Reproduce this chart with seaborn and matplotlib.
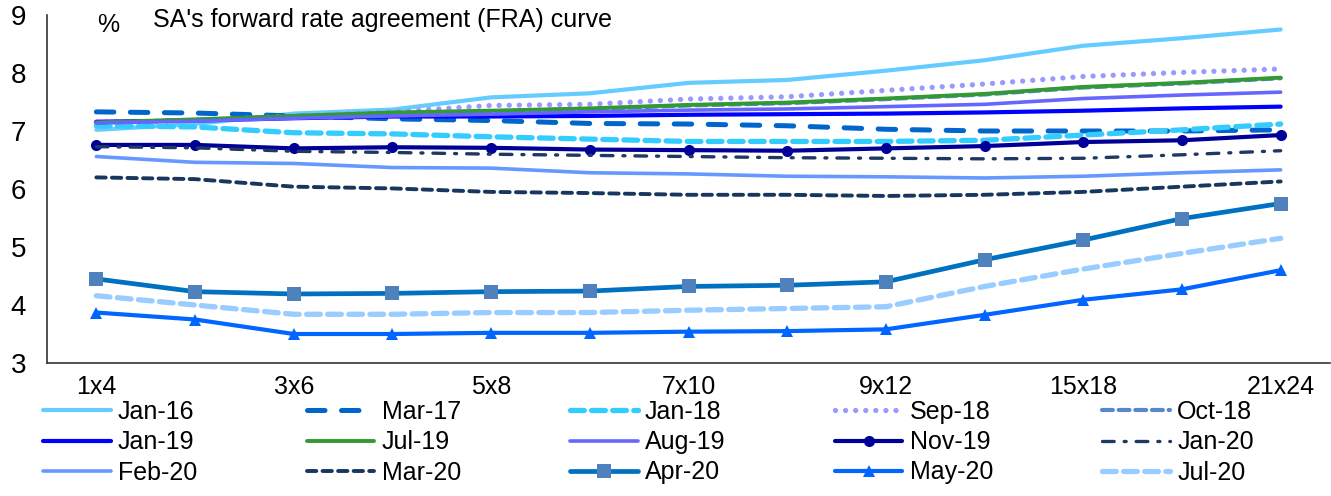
import numpy as np
import pandas as pd
import matplotlib
matplotlib.use("Agg")
import matplotlib.pyplot as plt
import seaborn as sns

# FRA tenors (x categories)
tenors = ["1x4", "2x5", "3x6", "4x7", "5x8", "6x9", "7x10", "8x11",
          "9x12", "12x15", "15x18", "18x21", "21x24"]

# curves (%)
jan16 = [7.02, 7.12, 7.30, 7.37, 7.58, 7.65, 7.83, 7.88, 8.04, 8.22, 8.47, 8.60, 8.75]
mar17 = [7.33, 7.31, 7.26, 7.21, 7.18, 7.13, 7.12, 7.09, 7.03, 7.00, 7.00, 7.00, 7.02]
jan18 = [7.09, 7.07, 6.97, 6.95, 6.90, 6.86, 6.82, 6.82, 6.82, 6.84, 6.93, 7.02, 7.12]
sep18 = [7.15, 7.18, 7.26, 7.33, 7.44, 7.46, 7.55, 7.59, 7.70, 7.81, 7.94, 8.01, 8.07]
oct18 = [7.14, 7.19, 7.25, 7.30, 7.34, 7.38, 7.44, 7.48, 7.55, 7.63, 7.75, 7.82, 7.91]
jan19 = [7.16, 7.18, 7.22, 7.25, 7.25, 7.26, 7.28, 7.29, 7.30, 7.32, 7.35, 7.39, 7.42]
jul19 = [7.15, 7.20, 7.26, 7.32, 7.35, 7.39, 7.45, 7.49, 7.56, 7.64, 7.76, 7.83, 7.92]
aug19 = [7.14, 7.17, 7.22, 7.26, 7.29, 7.33, 7.36, 7.38, 7.42, 7.46, 7.56, 7.62, 7.67]
nov19 = [6.76, 6.76, 6.70, 6.72, 6.71, 6.68, 6.67, 6.66, 6.70, 6.74, 6.81, 6.84, 6.93]
jan20 = [6.73, 6.71, 6.65, 6.63, 6.60, 6.58, 6.56, 6.54, 6.53, 6.52, 6.53, 6.59, 6.66]
feb20 = [6.56, 6.46, 6.44, 6.37, 6.36, 6.28, 6.26, 6.22, 6.21, 6.19, 6.22, 6.28, 6.33]
mar20 = [6.20, 6.17, 6.04, 6.01, 5.95, 5.93, 5.90, 5.90, 5.88, 5.90, 5.95, 6.04, 6.13]
apr20 = [4.45, 4.23, 4.19, 4.20, 4.23, 4.24, 4.32, 4.34, 4.40, 4.78, 5.12, 5.49, 5.75]
may20 = [3.87, 3.75, 3.50, 3.50, 3.52, 3.52, 3.54, 3.55, 3.58, 3.83, 4.09, 4.27, 4.60]
jul20 = [4.16, 4.00, 3.84, 3.84, 3.87, 3.87, 3.91, 3.94, 3.97, 4.32, 4.62, 4.89, 5.15]

# name, values, color, width(pt), linestyle, marker, marker size, marker colour
series = [
    ("Jan-16", jan16, "#66CCFF", 3.0, "-", None, 0, None),
    ("Mar-17", mar17, "#0066CC", 3.6, (0, (3.5, 3.3)), None, 0, None),
    ("Jan-18", jan18, "#33CCFF", 3.8, (0, (2.6, 1.4)), None, 0, None),
    ("Sep-18", sep18, "#9999FF", 3.8, (0, (0.01, 1.9)), None, 0, None),
    ("Oct-18", oct18, "#5588CC", 3.0, (0, (2.6, 1.4)), None, 0, None),
    ("Jan-19", jan19, "#0000FF", 3.0, "-", None, 0, None),
    ("Jul-19", jul19, "#339933", 2.8, "-", None, 0, None),
    ("Aug-19", aug19, "#6666FF", 2.6, "-", None, 0, None),
    ("Nov-19", nov19, "#000099", 3.0, "-", "o", 8, "#000099"),
    ("Jan-20", jan20, "#1F3864", 2.4, (0, (3.5, 3.0, 0.6, 3.0)), None, 0, None),
    ("Feb-20", feb20, "#6699FF", 2.6, "-", None, 0, None),
    ("Mar-20", mar20, "#17375E", 2.8, (0, (2.4, 1.6)), None, 0, None),
    ("Apr-20", apr20, "#0070C0", 3.4, "-", "s", 10, "#4F81BD"),
    ("May-20", may20, "#0066FF", 3.0, "-", "^", 9, "#0066FF"),
    ("Jul-20", jul20, "#99CCFF", 3.8, (0, (2.6, 1.4)), None, 0, None),
]

sns.set_style("white")
plt.rcParams["font.family"] = ["Liberation Sans", "DejaVu Sans"]
plt.rcParams["text.color"] = "black"
plt.rcParams["xtick.color"] = "black"
plt.rcParams["ytick.color"] = "black"

fig = plt.figure(figsize=(13.31, 4.96), dpi=100)
ax = fig.add_axes([47 / 1331, 1 - 363 / 496, 1283 / 1331, 348 / 496])

x = np.arange(len(tenors))
for name, vals, col, lw, ls, mk, ms, mcol in series:
    df = pd.DataFrame({"tenor": x, "rate": vals})
    kw = dict(color=col, lw=lw, linestyle=ls, label=name, sort=False)
    if mk:
        kw.update(marker=mk, markersize=ms, markerfacecolor=mcol,
                  markeredgecolor=mcol, markeredgewidth=0)
    else:
        kw.update(dash_capstyle="round")
    sns.lineplot(data=df, x="tenor", y="rate", ax=ax, **kw)

ax.set_xlim(-0.5, len(tenors) - 0.5)
ax.set_ylim(3, 9)
ax.set_yticks(range(3, 10))
ax.set_xticks(np.arange(-0.5, len(tenors), 1.0))
ax.set_xticklabels([])
ax.set_xticks(x[::2], minor=True)
ax.set_xticklabels(tenors[::2], minor=True)
ax.tick_params(axis="x", which="major", length=7, width=1.2, color="#333333", direction="out")
ax.tick_params(axis="x", which="minor", length=0, pad=9, labelsize=18, labelcolor="black")
ax.tick_params(axis="y", length=6, width=1.2, color="#333333", direction="out",
               pad=9, labelsize=20, labelcolor="black")
ax.set_xlabel("")
ax.set_ylabel("")
for s in ["top", "right"]:
    ax.spines[s].set_visible(False)
for s in ["left", "bottom"]:
    ax.spines[s].set_color("#333333")
    ax.spines[s].set_linewidth(1.2)

ax.get_legend().remove()

fig.text(97 / 1331, 1 - 25 / 496, "%", fontsize=18, va="center", color="black")
fig.text(153 / 1331, 1 - 20 / 496, "SA's forward rate agreement (FRA) curve",
         fontsize=18, va="center", color="black")

# legend laid out row by row as in the original
handles, labels = ax.get_legend_handles_labels()
order = [0, 5, 10, 1, 6, 11, 2, 7, 12, 3, 8, 13, 4, 9, 14]
leg = fig.legend([handles[i] for i in order], [labels[i] for i in order],
                 ncol=5, loc="upper left", bbox_to_anchor=(33 / 1331, 1 - 390 / 496),
                 frameon=False, fontsize=18, handlelength=2.7, handletextpad=0.3,
                 columnspacing=4.37, labelspacing=0.25, borderaxespad=0)
for t in leg.get_texts():
    t.set_color("black")

fig.savefig("out.png", dpi=100)
